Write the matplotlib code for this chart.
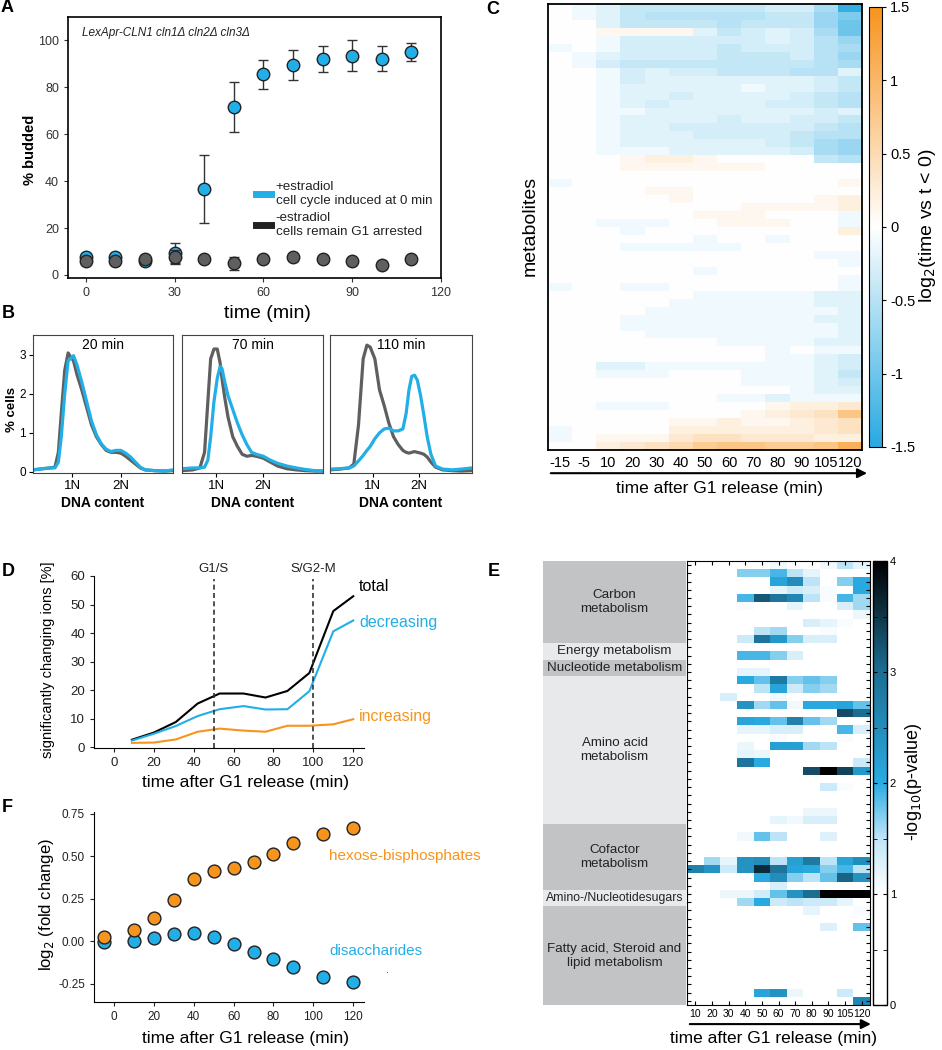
import numpy as np
import matplotlib
matplotlib.use('Agg')
import matplotlib.pyplot as plt
from matplotlib.colors import LinearSegmentedColormap
from matplotlib.lines import Line2D

plt.rcParams['font.family'] = ['Liberation Sans', 'DejaVu Sans']

BLUE = '#22aee6'
GRAY = '#5f5f5f'
ORANGE = '#f7941d'

# ---- panel A: budding index
bud_t = [0, 10, 20, 30, 40, 50, 60, 70, 80, 90, 100, 110]
bud_plus = [7.5, 7.5, 6, 9.5, 36.5, 71.5, 85.5, 89.5, 92, 93.5, 92.3, 95]
bud_plus_err = [1, 1, 1, 4.3, 14.5, 10.7, 6, 6.3, 5.5, 6.5, 5.3, 3.7]
bud_minus = [6, 5.8, 6.8, 7.5, 7, 5, 6.8, 7.5, 7, 6, 4.2, 7]
bud_minus_err = [1, 1, 1, 3, 1, 2.8, 1, 1, 1, 1, 1, 1]

# ---- panel B: DNA content histograms
b_titles = ['20 min', '70 min', '110 min']
b_xlims = [(0.2, 3.07), (0.27, 3.27), (0.09, 3.13)]
b_x = [
    [0.2, 0.4, 0.55, 0.65, 0.72, 0.78, 0.85, 0.92, 0.97, 1.03, 1.1, 1.2, 1.3, 1.4, 1.5, 1.6, 1.7, 1.8,
     1.9, 2.0, 2.1, 2.2, 2.3, 2.4, 2.5, 2.7, 2.9, 3.07],
    [0.27, 0.5, 0.65, 0.75, 0.82, 0.88, 0.95, 1.02, 1.08, 1.12, 1.18, 1.25, 1.35, 1.45, 1.55, 1.65, 1.75,
     1.85, 2.0, 2.15, 2.3, 2.5, 2.7, 2.9, 3.1, 3.27],
    [0.09, 0.3, 0.5, 0.6, 0.7, 0.8, 0.88, 0.95, 1.05, 1.15, 1.25, 1.35, 1.45, 1.55, 1.65, 1.72, 1.78, 1.84,
     1.9, 1.96, 2.03, 2.1, 2.17, 2.25, 2.35, 2.5, 2.7, 2.9, 3.13],
]
b_gray = [
    [0.05, 0.08, 0.1, 0.12, 0.5, 1.5, 2.6, 3.05, 2.95, 2.85, 2.5, 2.1, 1.65, 1.2, 0.9, 0.7, 0.55, 0.5,
     0.5, 0.48, 0.4, 0.3, 0.2, 0.1, 0.05, 0.03, 0.02, 0.03],
    [0.03, 0.05, 0.1, 0.5, 1.8, 2.9, 3.15, 3.15, 2.8, 2.4, 1.9, 1.4, 0.9, 0.65, 0.45, 0.4, 0.42, 0.4,
     0.35, 0.25, 0.15, 0.08, 0.05, 0.03, 0.02, 0.02],
    [0.05, 0.07, 0.1, 0.2, 1.2, 2.9, 3.25, 3.2, 2.9, 2.1, 1.7, 1.25, 0.9, 0.7, 0.55, 0.5, 0.48, 0.5,
     0.52, 0.5, 0.48, 0.45, 0.38, 0.25, 0.12, 0.05, 0.03, 0.02, 0.03],
]
b_blue = [
    [0.05, 0.08, 0.1, 0.1, 0.25, 0.9, 2.0, 2.85, 2.9, 2.98, 2.75, 2.3, 1.8, 1.3, 0.95, 0.72, 0.58, 0.52,
     0.55, 0.55, 0.48, 0.38, 0.25, 0.12, 0.05, 0.03, 0.02, 0.05],
    [0.08, 0.1, 0.1, 0.12, 0.3, 0.9, 1.8, 2.4, 2.7, 2.65, 2.3, 1.95, 1.6, 1.25, 0.95, 0.7, 0.5, 0.45,
     0.4, 0.3, 0.22, 0.15, 0.1, 0.06, 0.03, 0.02],
    [0.07, 0.08, 0.1, 0.15, 0.28, 0.42, 0.55, 0.65, 0.85, 1.0, 1.1, 1.12, 1.05, 1.05, 1.1, 1.5, 2.1, 2.45,
     2.48, 2.35, 1.95, 1.45, 0.9, 0.45, 0.15, 0.07, 0.05, 0.07, 0.1],
]

# ---- panel C: metabolite heatmap (log2 ratio, in tenths)
C_times = ['-15', '-5', '10', '20', '30', '40', '50', '60', '70', '80', '90', '105', '120']
C_rows = [
    [0, -1, -2, -4, -4, -4, -4, -4, -4, -3, -3, -6, -14],
    [0, -1, -2, -4, -5, -5, -5, -5, -5, -4, -4, -7, -9],
    [0, 0, -2, -4, -4, -4, -4, -5, -4, -4, -4, -7, -10],
    [0, 0, 1, 1, 1, 1, -2, -4, -3, -2, -3, -6, -10],
    [0, 0, -1, -3, -3, -3, -3, -3, -3, -2, -3, -5, -7],
    [-1, 0, -1, -3, -3, -3, -3, -4, -3, -3, -3, -5, -6],
    [0, -1, -2, -3, -3, -3, -3, -4, -4, -4, -3, -5, -7],
    [0, -1, -3, -4, -4, -4, -4, -4, -4, -4, -4, -5, -6],
    [0, 0, -1, -3, -2, -3, -3, -4, -4, -4, -5, -5, -2],
    [0, 0, -1, -3, -2, -2, -2, -2, -2, -2, -2, -3, -4],
    [0, 0, -1, -2, -2, -2, -2, -2, -1, -2, -2, -3, -4],
    [0, 0, -1, -2, -2, -3, -2, -2, -2, -2, -3, -4, -5],
    [0, 0, -1, -2, -3, -2, -2, -2, -2, -3, -3, -4, -5],
    [0, 0, -1, -1, -2, -2, -2, -2, -2, -2, -2, -3, -2],
    [0, 0, -1, -2, -2, -2, -2, -3, -2, -2, -3, -3, -4],
    [0, 0, -1, -2, -2, -3, -3, -3, -3, -3, -3, -4, -5],
    [0, 0, -1, -2, -2, -2, -3, -3, -3, -3, -4, -5, -5],
    [0, 0, -1, -2, -2, -2, -2, -2, -2, -3, -4, -6, -7],
    [0, 0, -1, -1, -1, -2, -2, -2, -2, -2, -3, -6, -7],
    [0, 0, 0, 1, 2, 2, 1, 0, 0, 0, 0, -4, -5],
    [0, 0, 0, 1, 1, 1, 1, 1, 1, 0, 0, 0, 0],
    [0, 0, 0, 0, 0, 0, 0, 0, 0, 0, 0, 0, 0],
    [-1, 0, 0, 0, 0, 0, 0, 0, 0, 0, 0, 0, 1],
    [0, 0, 0, 0, 1, 1, 0, 0, 0, 0, 0, 0, 0],
    [0, 0, 0, 0, 0, 1, 0, 0, 0, 0, 0, 1, 2],
    [0, 0, 0, 0, 0, 0, 0, 0, 1, 1, 1, 1, 2],
    [0, 0, 0, 0, 0, 0, 1, 1, 1, 0, 0, 0, -1],
    [0, 0, -1, -1, -1, 0, 0, 1, 1, 1, 0, 0, -1],
    [0, 0, 0, -1, 0, 0, 0, 0, 0, 0, 0, 0, 2],
    [0, 0, 0, 0, 0, 0, -1, 0, 0, -1, 0, 0, 0],
    [0, 0, 0, -1, -1, -1, -1, -1, 0, 0, 0, 0, 0],
    [0, 0, 0, 0, 0, 0, 0, 0, 0, 0, 0, -1, -1],
    [0, 0, 0, 0, 0, 0, 0, 0, 0, 0, 0, 0, -1],
    [0, 0, 0, 0, 0, 0, -1, 0, 0, 0, 0, 0, 0],
    [0, 0, 0, 0, 0, 0, 0, 0, 0, 0, 0, 0, -1],
    [-1, 0, 0, -1, -1, 0, 0, 0, 0, 0, 0, 0, -1],
    [0, 0, 0, 0, 0, 0, -1, -1, -1, -1, -1, -2, -2],
    [0, 0, 0, 0, 0, -1, -1, -1, -1, -1, -1, -2, -2],
    [0, 0, 0, 0, -1, -1, -1, -1, -1, -1, -1, -1, -2],
    [0, 0, 0, -1, -1, -1, -1, -1, -1, -1, -1, -2, -2],
    [0, 0, 0, -1, -1, -1, -1, -1, -1, -1, -1, -1, -2],
    [0, 0, 0, 0, -1, -1, -1, -1, -1, -1, -1, -1, -2],
    [0, 0, 0, 0, 0, 0, 0, -1, -1, -1, -1, -2, -2],
    [0, 0, 0, 0, 0, 0, 0, 0, 0, -1, 0, -1, -1],
    [0, 0, 0, 0, 0, 0, 0, 0, 0, -1, -1, -2, -3],
    [0, 0, -2, -2, -1, -1, -1, -1, -1, -1, -1, -2, -3],
    [0, 0, -1, -1, -1, 0, 0, 0, -1, -1, -1, -2, -4],
    [0, 0, 0, 0, 0, 0, 0, 0, -1, -1, -1, -2, -3],
    [0, 0, 0, 0, 0, 0, 0, 0, 0, 0, -1, -2, -2],
    [0, 0, 0, 0, 0, 0, 0, -1, -1, -2, -1, -1, -1],
    [0, 0, -1, -1, -1, 0, 0, 0, 0, 1, 2, 2, 3],
    [0, 0, 0, 0, 0, 0, 0, 0, 1, 2, 3, 4, 8],
    [0, 0, 0, 0, 0, 1, 1, 2, 1, 1, 2, 3, 4],
    [-1, 0, 0, 0, 0, 2, 2, 2, 2, 2, 2, 3, 4],
    [-1, 0, 1, 1, 1, 3, 4, 4, 3, 3, 3, 2, 2],
    [0, 0, 2, 3, 4, 5, 7, 8, 8, 7, 7, 8, 11],
]

# ---- panel D: significantly changing ions
D_t = [9, 20, 31, 42, 53, 65, 76, 87, 98, 110, 120]
D_total = [2.6, 5.1, 8.8, 15.3, 18.8, 18.8, 17.4, 19.7, 26.0, 47.7, 52.9]
D_decr = [2.3, 4.7, 7.4, 10.9, 13.3, 14.4, 13.2, 13.3, 19.6, 40.6, 44.4]
D_incr = [1.5, 1.6, 2.7, 5.4, 6.5, 5.8, 5.4, 7.5, 7.5, 8.0, 9.8]

# ---- panel E: pathway enrichment (-log10 p)
E_times = ['10', '20', '30', '40', '50', '60', '70', '80', '90', '105', '120']
E_groups = ['Carbon\nmetabolism', 'Energy metabolism', 'Nucleotide metabolism', 'Amino acid\nmetabolism',
            'Cofactor\nmetabolism', 'Amino-/Nucleotidesugars', 'Fatty acid, Steroid and\nlipid metabolism']
E_group_sizes = [10, 2, 2, 18, 8, 2, 12]
E_rows = [
    [0, 0, 0, 0, 0, 1.1, 0, 0, 1.1, 1.5, 1.2],
    [0, 0, 0, 1.7, 1.7, 1.9, 1.5, 1.2, 0, 0, 0],
    [0, 0, 0, 0, 0, 2.1, 2.5, 1.5, 0, 1.7, 2.0],
    [0, 0, 0, 0, 0, 1.2, 1.4, 1.3, 1.05, 0, 2.0],
    [0, 0, 0, 1.9, 3.2, 2.9, 2.6, 1.5, 1.05, 1.9, 1.6],
    [0, 0, 0, 1.05, 0, 0, 1.2, 0, 0, 1.3, 1.6],
    [0, 0, 0, 0, 0, 0, 0, 0, 0, 0, 1.15],
    [0, 0, 0, 0, 0, 0, 0, 1.3, 1.2, 1.05, 0],
    [0, 0, 0, 0, 1.5, 1.6, 0, 0, 1.05, 0, 0],
    [0, 0, 0, 1.4, 2.9, 2.3, 1.7, 1.3, 1.3, 0, 0],
    [0, 0, 0, 0, 0, 0, 0, 0, 0, 0, 0],
    [0, 0, 0, 1.9, 1.9, 1.7, 1.3, 0, 0, 0, 0],
    [0, 0, 0, 0, 0, 0, 0, 0, 0, 0, 0],
    [0, 0, 0, 1.2, 1.2, 0, 0, 0, 0, 0, 0],
    [0, 0, 0, 2.0, 1.8, 2.8, 1.7, 1.8, 1.7, 0, 0],
    [0, 0, 0, 0, 1.5, 2.1, 1.4, 1.7, 1.6, 0, 0],
    [0, 0, 1.3, 0, 0, 1.1, 0, 0, 0, 0, 0],
    [0, 0, 0, 2.4, 1.6, 1.8, 1.1, 2.0, 2.0, 2.1, 1.8],
    [0, 0, 0, 0, 0, 0, 0, 0, 0, 3.3, 3.0],
    [0, 0, 0, 2.1, 2.0, 1.8, 2.7, 1.8, 1.6, 0, 0],
    [0, 0, 0, 1.2, 1.2, 1.3, 1.3, 0, 0, 1.9, 1.3],
    [0, 0, 0, 0, 0, 1.05, 0, 0, 0, 1.05, 0],
    [0, 0, 0, 1.15, 0, 2.2, 2.2, 1.6, 1.5, 0, 0],
    [0, 0, 0, 1.2, 1.15, 0, 0, 0, 0, 0, 0],
    [0, 0, 0, 2.9, 2.0, 0, 0, 0, 0, 0, 1.4],
    [0, 0, 0, 0, 0, 0, 0, 3.3, 4.0, 3.4, 2.3],
    [0, 0, 0, 0, 0, 0, 0, 0, 0, 0, 0],
    [0, 0, 0, 0, 0, 0, 0, 0, 1.4, 1.05, 0],
    [0, 0, 0, 0, 0, 0, 0, 0, 0, 0, 0],
    [0, 0, 0, 0, 0, 0, 0, 0, 0, 0, 0],
    [0, 0, 0, 0, 0, 0, 0, 1.15, 1.15, 0, 0],
    [0, 0, 0, 0, 0, 1.2, 1.1, 1.3, 1.3, 0, 0],
    [0, 0, 0, 0, 0, 0, 0, 0, 0, 0, 0],
    [0, 0, 0, 1.1, 1.8, 1.5, 0, 0, 1.25, 0, 0],
    [0, 0, 0, 0, 0, 0, 0, 0, 0, 0, 0],
    [0, 0, 0, 0, 0, 0, 0, 0, 0, 0, 0],
    [0, 1.6, 1.2, 2.4, 2.5, 1.5, 2.2, 2.8, 1.5, 2.1, 2.5],
    [2.7, 2.4, 1.4, 2.4, 3.6, 2.9, 2.1, 2.0, 1.7, 1.9, 1.5],
    [0, 0, 0, 0, 2.0, 2.5, 1.7, 1.5, 1.8, 3.1, 2.4],
    [0, 0, 0, 0, 0, 1.3, 0, 0, 0, 0, 0],
    [0, 0, 1.15, 1.15, 1.35, 1.8, 2.4, 3.0, 4.0, 4.0, 4.0],
    [0, 0, 0, 1.6, 2.0, 1.4, 1.5, 1.4, 1.4, 1.2, 0],
    [0, 0, 0, 0, 0, 0, 0, 1.2, 0, 0, 1.05],
    [0, 0, 0, 0, 0, 0, 0, 0, 0, 0, 0],
    [0, 0, 0, 0, 0, 0, 0, 0, 1.25, 0, 1.8],
    [0, 0, 0, 0, 0, 0, 0, 0, 0, 0, 0],
    [0, 0, 0, 0, 0, 0, 0, 0, 0, 0, 0],
    [0, 0, 0, 0, 0, 0, 0, 0, 0, 0, 0],
    [0, 0, 0, 0, 0, 0, 0, 0, 0, 0, 0],
    [0, 0, 0, 0, 0, 0, 0, 0, 0, 0, 0],
    [0, 0, 0, 0, 0, 0, 0, 0, 0, 0, 0],
    [0, 0, 0, 0, 0, 0, 0, 0, 0, 0, 0],
    [0, 0, 0, 0, 2.1, 2.4, 1.15, 0, 0, 1.4, 0],
    [0, 0, 0, 0, 0, 0, 0, 0, 0, 0, 2.6],
]

# ---- panel F: fold changes
F_t = [-5, 10, 20, 30, 40, 50, 60, 70, 80, 90, 105, 120]
F_hex = [0.025, 0.064, 0.138, 0.245, 0.364, 0.412, 0.43, 0.465, 0.514, 0.576, 0.63, 0.665]
F_dis = [-0.006, 0.002, 0.021, 0.041, 0.047, 0.027, -0.014, -0.064, -0.103, -0.152, -0.208, -0.243]

W, H = 942, 1050
fig = plt.figure(figsize=(W / 100, H / 100), dpi=100)


def axes_px(l, t, r, b):
    return fig.add_axes([l / W, 1 - b / H, (r - l) / W, (b - t) / H])


def ftext(x, y, s, **kw):
    kw.setdefault('ha', 'center')
    kw.setdefault('va', 'center')
    fig.text(x / W, 1 - y / H, s, **kw)


# panel letters
for letter, (x, y) in zip('ABCDEF', [(7, 8), (8, 313), (493, 9), (8, 572), (494, 572), (7, 808)]):
    ftext(x, y, letter, fontsize=13, fontweight='bold')

# ================= A
ax = axes_px(68, 17, 441, 278)
ax.errorbar(bud_t, bud_plus, yerr=bud_plus_err, fmt='o', ms=9, mfc=BLUE, mec='#222222', mew=1,
            ecolor='#333333', elinewidth=1, capsize=3.5, zorder=2)
ax.errorbar(bud_t, bud_minus, yerr=bud_minus_err, fmt='o', ms=9, mfc=GRAY, mec='#222222', mew=1,
            ecolor='#333333', elinewidth=1, capsize=3.5, zorder=3)
ax.set_xlim(-6, 120)
ax.set_ylim(-1.3, 110)
ax.set_xticks([0, 30, 60, 90, 120])
ax.set_yticks([0, 20, 40, 60, 80, 100])
ax.tick_params(labelsize=9, length=3, colors='#333333')
for s in ax.spines.values():
    s.set_linewidth(1.2)
ax.text(0.037, 0.94, 'LexApr-CLN1 cln1Δ cln2Δ cln3Δ', transform=ax.transAxes, fontsize=8.5,
        fontstyle='italic', va='center', color='#222222')
handles = [Line2D([0], [0], color=BLUE, lw=5), Line2D([0], [0], color='#222222', lw=5)]
ax.legend(handles, ['+estradiol\ncell cycle induced at 0 min', '-estradiol\ncells remain G1 arrested'],
          loc='upper left', bbox_to_anchor=(0.505, 0.37), frameon=False, fontsize=9.6,
          handlelength=1.1, handletextpad=0.35, borderpad=0, borderaxespad=0, labelspacing=0.35,
          labelcolor='#222222')
ftext(267, 313, 'time (min)', fontsize=14)
ftext(30, 150, '% budded', fontsize=10.5, fontweight='bold', rotation=90)

# ================= B
b_boxes = [(33, 335, 173, 473), (182, 335, 323, 473), (330, 335, 472, 473)]
for i, box in enumerate(b_boxes):
    axb = axes_px(*box)
    axb.plot(b_x[i], b_gray[i], color=GRAY, lw=2.3)
    axb.plot(b_x[i], b_blue[i], color=BLUE, lw=2.3)
    axb.set_xlim(*b_xlims[i])
    axb.set_ylim(-0.03, 3.51)
    axb.set_xticks([1, 2])
    axb.set_xticklabels(['1N', '2N'], fontsize=9.5)
    if i == 0:
        axb.set_yticks([0, 1, 2, 3])
        axb.tick_params(axis='y', labelsize=8.5, length=3, pad=2)
    else:
        axb.set_yticks([])
    axb.tick_params(axis='x', length=3, pad=2)
    axb.text(0.5, 0.975, b_titles[i], transform=axb.transAxes, ha='center', va='top', fontsize=10)
    for s in axb.spines.values():
        s.set_color('#444444')
    ftext((box[0] + box[2]) / 2, 503, 'DNA content', fontsize=10, fontweight='bold')
ftext(12, 410, '% cells', fontsize=9.5, fontweight='bold', rotation=90)

# ================= C
cmap_c = LinearSegmentedColormap.from_list('c', [(0, '#27a9e1'), (0.5, 'white'), (1, ORANGE)])
C_vals = np.array(C_rows) / 10.0
axc = axes_px(548, 4, 862, 450)
imc = axc.imshow(C_vals, aspect='auto', cmap=cmap_c, vmin=-1.5, vmax=1.5, interpolation='nearest')
axc.set_xticks(range(len(C_times)))
axc.set_xticklabels(C_times, fontsize=10.5)
axc.tick_params(axis='x', length=0, pad=4)
axc.set_yticks([])
for s in axc.spines.values():
    s.set_linewidth(1.3)
axc.annotate('', xy=(1.025, -0.052), xytext=(0, -0.052), xycoords='axes fraction',
             arrowprops=dict(arrowstyle='-|>', color='black', lw=1.5, mutation_scale=14),
             annotation_clip=False)
ftext(720, 489, 'time after G1 release (min)', fontsize=12.5)
ftext(530, 226, 'metabolites', fontsize=14, rotation=90)
caxc = axes_px(869, 7, 882, 447)
cbc = fig.colorbar(imc, cax=caxc, ticks=[-1.5, -1, -0.5, 0, 0.5, 1, 1.5])
cbc.ax.set_yticklabels(['-1.5', '-1', '-0.5', '0', '0.5', '1', '1.5'], fontsize=10.5)
cbc.ax.tick_params(length=3, width=0.8, pad=3)
cbc.outline.set_linewidth(0.8)
ftext(927, 226, 'log$_2$(time vs t < 0)', fontsize=14, rotation=90)

# ================= D
axd = axes_px(94, 576, 364, 748)
axd.plot(D_t, D_total, color='black', lw=1.5)
axd.plot(D_t, D_decr, color=BLUE, lw=1.5)
axd.plot(D_t, D_incr, color=ORANGE, lw=1.5)
for xv, lab in [(50, 'G1/S'), (100, 'S/G2-M')]:
    axd.plot([xv, xv], [-0.3, 59], color='#333333', ls=(0, (3, 2)), lw=1.2)
    axd.text(xv, 60.3, lab, ha='center', va='bottom', fontsize=9.5, color='#222222')
axd.text(123, 56.2, 'total', color='black', fontsize=11.5, va='center')
axd.text(123, 43.6, 'decreasing', color=BLUE, fontsize=11.5, va='center')
axd.text(123, 10.9, 'increasing', color=ORANGE, fontsize=11.5, va='center')
axd.set_xlim(-10, 125.4)
axd.set_ylim(-0.3, 60)
axd.set_xticks(range(0, 121, 20))
axd.set_yticks(range(0, 61, 10))
axd.spines[['top', 'right']].set_visible(False)
axd.tick_params(labelsize=9.5, length=3, colors='#222222')
ftext(245, 783, 'time after G1 release (min)', fontsize=12.5)
ftext(48, 660, 'significantly changing ions [%]', fontsize=10.5, rotation=90)

# ================= E
n_e = len(E_rows)
axcat = axes_px(543, 561, 686, 1005)
start = 0
for k, (name, size) in enumerate(zip(E_groups, E_group_sizes)):
    col = '#c2c3c5' if k % 2 == 0 else '#e8e9eb'
    axcat.axhspan(start - 0.5, start + size - 0.5, color=col, lw=0)
    fs = 8.8 if 'sugars' in name else 9.6
    axcat.text(0.5, start + size / 2 - 0.5, name, ha='center', va='center', fontsize=fs,
               linespacing=1.25, color='#222222')
    start += size
axcat.set_xlim(0, 1)
axcat.set_ylim(n_e - 0.5, -0.5)
axcat.axis('off')

cmap_e = LinearSegmentedColormap.from_list(
    'e', [(0, 'white'), (0.25, 'white'), (0.375, '#bfe5f7'), (0.5, '#29abe2'), (0.75, '#1d6f94'), (1, 'black')])
axe = axes_px(687, 561, 870, 1005)
ime = axe.imshow(np.array(E_rows), aspect='auto', cmap=cmap_e, vmin=0, vmax=4, interpolation='nearest')
axe.set_xticks(range(len(E_times)))
axe.set_xticklabels(E_times, fontsize=7.5)
axe.set_yticks(range(n_e))
axe.set_yticklabels([])
axe.tick_params(direction='in', length=3, width=0.8, top=True, right=True, pad=3)
axe.annotate('', xy=(1.02, -0.043), xytext=(0, -0.043), xycoords='axes fraction',
             arrowprops=dict(arrowstyle='-|>', color='black', lw=1.5, mutation_scale=14),
             annotation_clip=False)
ftext(774, 1038, 'time after G1 release (min)', fontsize=12.5)
caxe = axes_px(873, 561, 887, 1005)
cbe = fig.colorbar(ime, cax=caxe, ticks=[0, 1, 2, 3, 4])
cbe.ax.set_yticks([0.5, 1.5, 2.5, 3.5], minor=True)
cbe.ax.tick_params(which='both', direction='in', left=True, right=True, length=3, labelsize=8, pad=2)
cbe.outline.set_linewidth(1.0)
ftext(913, 782, '-log$_{10}$(p-value)', fontsize=13, rotation=90)

# ================= F
axf = axes_px(94, 812, 364, 1002)
axf.scatter(F_t, F_hex, s=85, color=ORANGE, edgecolor='#222222', linewidth=1, zorder=3)
axf.scatter(F_t, F_dis, s=85, color=BLUE, edgecolor='#222222', linewidth=1, zorder=2)
axf.text(108, 0.50, 'hexose-bisphosphates', color=ORANGE, fontsize=11, va='center')
axf.text(108, -0.056, 'disaccharides', color=BLUE, fontsize=11, va='center')
axf.text(137, -0.19, '.', color='#333333', fontsize=8, ha='center')
axf.set_xlim(-10, 125.4)
axf.set_ylim(-0.358, 0.76)
axf.set_xticks(range(0, 121, 20))
axf.set_yticks([-0.25, 0, 0.25, 0.5, 0.75])
axf.set_yticklabels(['-0.25', '0.00', '0.25', '0.50', '0.75'])
axf.spines[['top', 'right']].set_visible(False)
axf.tick_params(labelsize=8.5, length=3, colors='#222222')
ftext(245, 1038, 'time after G1 release (min)', fontsize=12.5)
ftext(47, 905, 'log$_2$ (fold change)', fontsize=12, rotation=90)

fig.savefig('out.png', dpi=100)
